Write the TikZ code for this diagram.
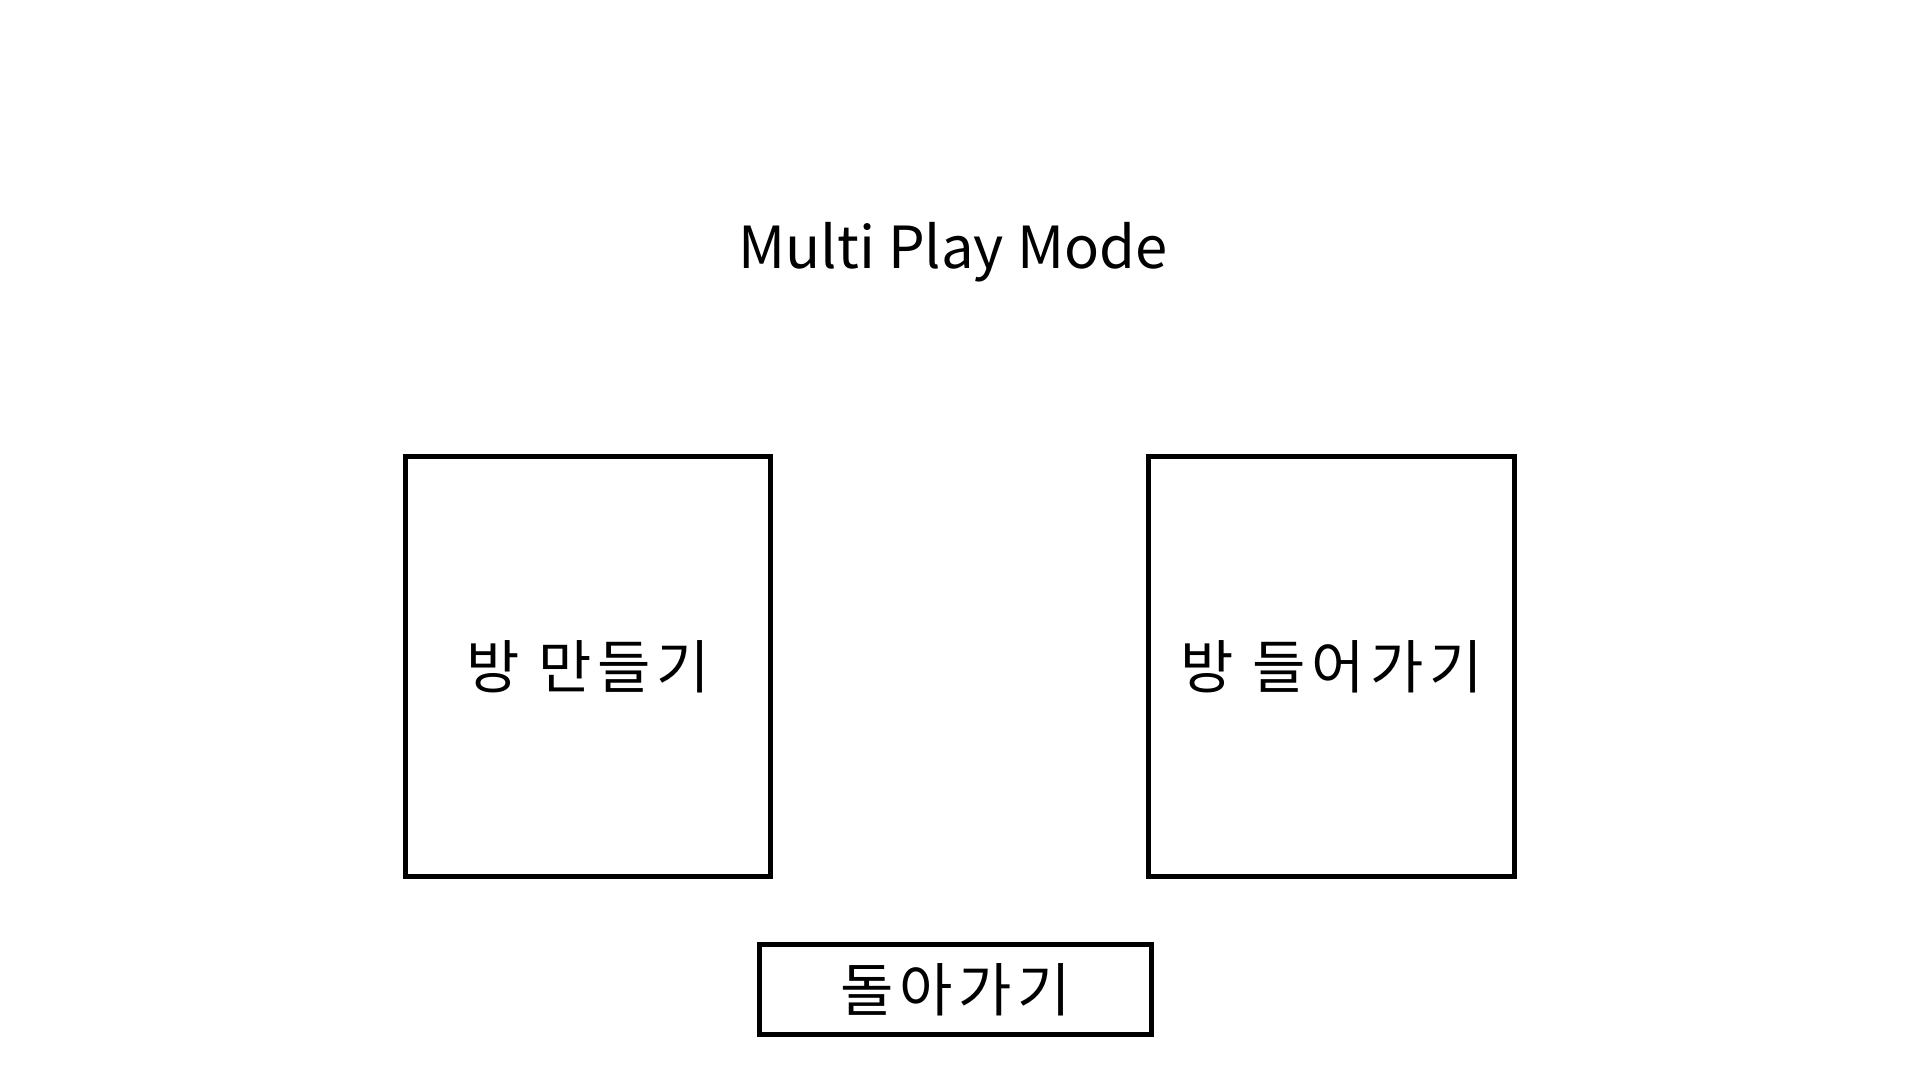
\documentclass[tikz,border=0pt]{standalone}
\usepackage{fontspec}
\setmainfont{Noto Sans CJK KR}
\newfontfamily\hangul[LetterSpace=10]{Noto Sans CJK KR}
\begin{document}
\begin{tikzpicture}[boton/.style={draw, line width=1.35pt, inner sep=0pt, texto, font=\hangul\fontsize{16.5pt}{18pt}\selectfont},
  texto/.style={font=\fontsize{16.5pt}{18pt}\selectfont}]
  \useasboundingbox (0,0) rectangle (19.2,10.8);
  % Nodos
  \node[texto] (titulo) at (9.53,8.28) {Multi Play Mode};
  \node[boton, minimum width=3.65cm, minimum height=4.2cm] (crear) at (5.88,4.135) {방 만들기};
  \node[boton, minimum width=3.66cm, minimum height=4.2cm] (entrar) at (13.315,4.135) {방 들어가기};
  \node[boton, minimum width=3.92cm, minimum height=0.9cm] (volver) at (9.555,0.905) {돌아가기};
\end{tikzpicture}
\end{document}
